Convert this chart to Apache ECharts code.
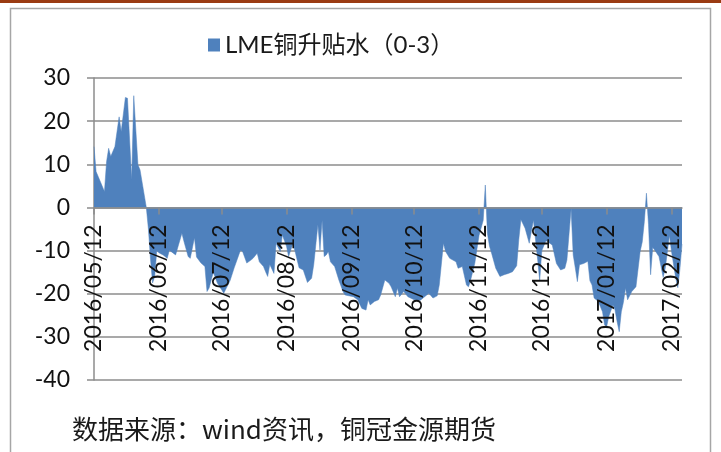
<!DOCTYPE html>
<html>
<head>
<meta charset="utf-8">
<script src="https://cdn.jsdelivr.net/npm/echarts@6/dist/echarts.min.js"></script>
<style>
  html, body { margin: 0; padding: 0; background: #fff; }
  #chart { width: 721px; height: 452px; }
</style>
</head>
<body>
<div id="chart"></div>
<script>
  // LME 铜升贴水（0-3），按日读数
  const dates = [
    '2016/05/12', '2016/05/13', '2016/05/17', '2016/05/18', '2016/05/19', '2016/05/20', '2016/05/22',
    '2016/05/24', '2016/05/25', '2016/05/27', '2016/05/28', '2016/05/30', '2016/05/31', '2016/06/02',
    '2016/06/03', '2016/06/06', '2016/06/07', '2016/06/08', '2016/06/09', '2016/06/10', '2016/06/11',
    '2016/06/12', '2016/06/14', '2016/06/16', '2016/06/17', '2016/06/20', '2016/06/23', '2016/06/24',
    '2016/06/26', '2016/06/27', '2016/06/29', '2016/06/30', '2016/07/02', '2016/07/04', '2016/07/05',
    '2016/07/06', '2016/07/08', '2016/07/10', '2016/07/12', '2016/07/13', '2016/07/16', '2016/07/18',
    '2016/07/21', '2016/07/22', '2016/07/24', '2016/07/26', '2016/07/27', '2016/07/29', '2016/07/30',
    '2016/08/01', '2016/08/02', '2016/08/03', '2016/08/04', '2016/08/06', '2016/08/07', '2016/08/09',
    '2016/08/10', '2016/08/12', '2016/08/13', '2016/08/15', '2016/08/16', '2016/08/18', '2016/08/20',
    '2016/08/22', '2016/08/24', '2016/08/25', '2016/08/27', '2016/08/28', '2016/08/29', '2016/08/30',
    '2016/08/31', '2016/09/01', '2016/09/02', '2016/09/04', '2016/09/06', '2016/09/08', '2016/09/09',
    '2016/09/13', '2016/09/15', '2016/09/17', '2016/09/19', '2016/09/20', '2016/09/21', '2016/09/23',
    '2016/09/25', '2016/09/26', '2016/09/28', '2016/09/30', '2016/10/01', '2016/10/03', '2016/10/04',
    '2016/10/05', '2016/10/07', '2016/10/09', '2016/10/12', '2016/10/15', '2016/10/17', '2016/10/19',
    '2016/10/21', '2016/10/23', '2016/10/24', '2016/10/26', '2016/10/27', '2016/10/29', '2016/11/01',
    '2016/11/02', '2016/11/04', '2016/11/06', '2016/11/07', '2016/11/08', '2016/11/10', '2016/11/12',
    '2016/11/14', '2016/11/15', '2016/11/16', '2016/11/17', '2016/11/18', '2016/11/20', '2016/11/22',
    '2016/11/24', '2016/11/26', '2016/11/28', '2016/11/30', '2016/12/01', '2016/12/02', '2016/12/04',
    '2016/12/06', '2016/12/07', '2016/12/08', '2016/12/10', '2016/12/11', '2016/12/12', '2016/12/14',
    '2016/12/17', '2016/12/19', '2016/12/21', '2016/12/23', '2016/12/24', '2016/12/26', '2016/12/27',
    '2016/12/28', '2016/12/29', '2016/12/30', '2017/01/01', '2017/01/03', '2017/01/04', '2017/01/05',
    '2017/01/06', '2017/01/08', '2017/01/10', '2017/01/11', '2017/01/12', '2017/01/13', '2017/01/15',
    '2017/01/16', '2017/01/17', '2017/01/18', '2017/01/19', '2017/01/20', '2017/01/21', '2017/01/22',
    '2017/01/24', '2017/01/26', '2017/01/28', '2017/01/29', '2017/01/30', '2017/01/31', '2017/02/01',
    '2017/02/02', '2017/02/03', '2017/02/04', '2017/02/06', '2017/02/08', '2017/02/09', '2017/02/11',
    '2017/02/12', '2017/02/14', '2017/02/15', '2017/02/16', '2017/02/17'
  ];
  const values = [
    14.1, 8.3, 3.7, 10.6, 13.7, 11.8, 14.1,
    21, 17.6, 25.5, 25.3, 6.4, 25.9, 9.9,
    8.7, 0, -5, -12, -17.5, -16, -10,
    -10.5, -11, -11.8, -9.9, -11, -6, -7.9,
    -11.4, -11.8, -7, -11.5, -12.8, -13.7, -19.5,
    -18.7, -15, -17.6, -19.1, -19.9, -17, -14,
    -9.9, -10.2, -12.9, -12.2, -11.8, -10.6, -12.6,
    -13.7, -14.9, -16, -13.2, -15.3, -8.3, -10.2,
    -6.4, -9, -11.4, -8.5, -10, -14, -14.5,
    -17.4, -16.4, -13.3, -4, -9.9, -3, -11.4,
    -11, -10.2, -12.6, -13.7, -16.8, -19.5, -20.3,
    -20.7, -21.4, -23.4, -23.8, -21.4, -22.6, -21.8,
    -21.4, -20.3, -16.8, -17.6, -18.4, -20.7, -18.7,
    -20.7, -19.5, -20.7, -21.4, -21.5, -20.7, -19.9,
    -21, -20.5, -18, -8.3, -10.2, -11.8, -12.6,
    -14.1, -13.7, -18, -18.4, -16.8, -12.9, -6.5,
    -3, 5.2, -6, -9, -10.6, -14.1, -16,
    -15.6, -15.3, -14.9, -13.5, -7.5, -2.8, -4.8,
    -8.3, -5.6, -2.9, -12, -17, -10, -7.7,
    -8.7, -13, -14.5, -14.1, -12.2, -0.3, -11,
    -14, -17.2, -13.3, -13, -12.5, -17, -18,
    -21, -21.8, -24.2, -27.2, -27.6, -25.3, -22.6,
    -23.8, -26.5, -28.8, -24.2, -22, -18.7, -21.4,
    -19.5, -18.4, -10.2, -8, -3.3, 3.3, -4,
    -15.6, -9.3, -9.9, -11.4, -16.2, -14.1, -6.5,
    -10.2, -16.4, -18.6, -14.3, -8.5
  ];
  const tickLabels = [
    '2016/05/12', '2016/06/12', '2016/07/12', '2016/08/12', '2016/09/12',
    '2016/10/12', '2016/11/12', '2016/12/12', '2017/01/12', '2017/02/12'
  ];
  const seriesName = 'LME铜升贴水（0-3）';
  const sourceText = '数据来源：wind资讯，铜冠金源期货';

  const yMin = -40;
  const yMax = 30;

  function toTime(s) {
    const p = s.split('/');
    return new Date(+p[0], +p[1] - 1, +p[2]).getTime();
  }
  function pad(n) {
    return n < 10 ? '0' + n : '' + n;
  }
  function fmtDate(t) {
    const d = new Date(t);
    return d.getFullYear() + '/' + pad(d.getMonth() + 1) + '/' + pad(d.getDate());
  }

  const tickTimes = tickLabels.map(toTime);
  const seriesData = dates.map((d, i) => [toTime(d), values[i]]);

  const latin = 'Lato, "Noto Sans CJK SC", sans-serif';
  const gridColor = '#8c8c8c';
  const grid = {left: 94, right: 39, top: 78, bottom: 72};
  // x 轴放在 0 值处：从底边往上挪
  const gridH = 452 - grid.top - grid.bottom;
  const zeroOffset = -gridH * (0 - yMin) / (yMax - yMin);

  const option = {
    animation: false,
    backgroundColor: '#fff',
    graphic: [
      {type: 'rect', shape: {x: 0, y: 0, width: 721, height: 3}, style: {fill: '#9a3b12'}},
      {type: 'rect', shape: {x: 10.5, y: 8.5, width: 700, height: 470},
        style: {fill: 'none', stroke: '#a6a6a6', lineWidth: 1.5}},
      {type: 'text', left: 72, top: 416,
        style: {text: sourceText, font: '26px "Noto Sans CJK SC"', fill: '#1a1a1a'}}
    ],
    legend: {
      data: [seriesName],
      left: 203,
      top: 28,
      icon: 'rect',
      itemWidth: 12,
      itemHeight: 13,
      textStyle: {fontFamily: latin, fontSize: 24, color: '#1a1a1a'}
    },
    grid: Object.assign({containLabel: false, outerBoundsMode: 'none'}, grid),
    xAxis: {
      // 时间戳作为数值轴，刻度放在每月12日
      type: 'value',
      z: 10,
      min: toTime(dates[0]),
      max: toTime(dates[dates.length - 1]),
      offset: zeroOffset,
      axisLine: {onZero: false, lineStyle: {color: gridColor, width: 1.5}},
      axisTick: {show: true, length: 7, customValues: tickTimes, lineStyle: {color: gridColor, width: 1.5}},
      axisLabel: {
        customValues: tickTimes,
        rotate: 90,
        margin: 17,
        fontFamily: latin,
        fontSize: 23,
        color: '#111',
        formatter: v => fmtDate(v)
      },
      splitLine: {show: false}
    },
    yAxis: {
      type: 'value',
      min: yMin,
      max: yMax,
      interval: 10,
      axisLine: {show: true, onZero: false, lineStyle: {color: gridColor, width: 1.5}},
      axisTick: {show: true, length: 7, lineStyle: {color: gridColor, width: 1.5}},
      axisLabel: {margin: 24, fontFamily: latin, fontSize: 23, color: '#111'},
      splitLine: {show: true, lineStyle: {color: gridColor, width: 1.5}}
    },
    series: [{
      name: seriesName,
      type: 'line',
      data: seriesData,
      showSymbol: false,
      symbol: 'none',
      itemStyle: {color: '#4f81bd'},
      lineStyle: {color: '#4f81bd', width: 0.5},
      areaStyle: {color: '#4f81bd', opacity: 1}
    }]
  };

  const chart = echarts.init(document.getElementById('chart'));
  chart.setOption(option);
</script>
</body>
</html>
